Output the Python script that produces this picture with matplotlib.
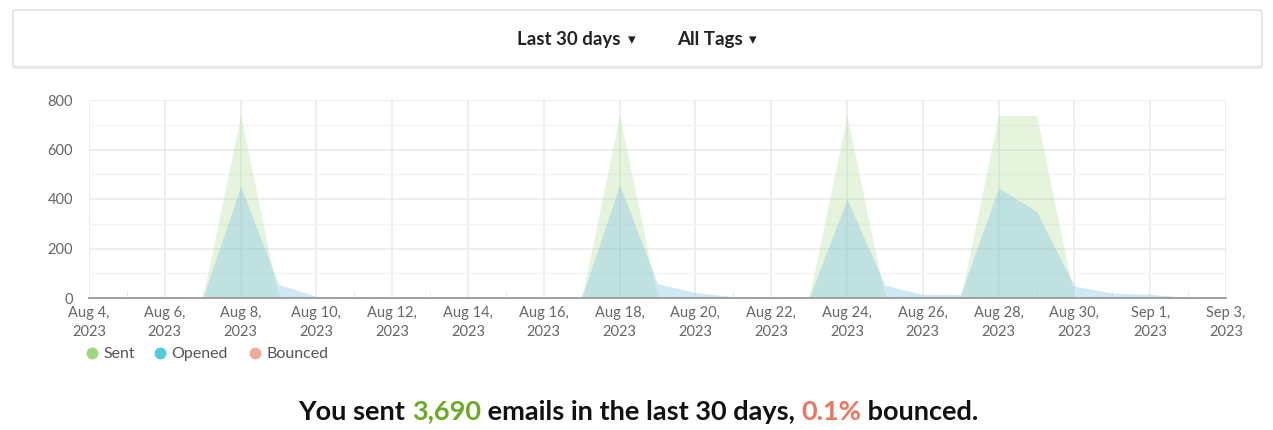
#Importing Required Libraries
import pandas as pd
import matplotlib
matplotlib.use("Agg")
import matplotlib.pyplot as plt
import matplotlib.dates as mdates
from matplotlib.lines import Line2D
from matplotlib.patches import FancyBboxPatch

plt.rcParams['font.family'] = ['Lato', 'DejaVu Sans']

#Daily values, Aug 4 2023 .. Sep 3 2023
dates = pd.date_range("2023-08-04", "2023-09-03", freq="D")
sent = [0, 0, 0, 0, 738, 0, 0, 0, 0, 0, 0, 0, 0, 0, 738, 0,
        0, 0, 0, 0, 738, 0, 0, 0, 738, 738, 0, 0, 0, 0, 0]
opened = [0, 0, 0, 0, 450, 55, 6, 3, 0, 0, 0, 0, 0, 0, 458, 58,
          22, 6, 2, 0, 400, 52, 14, 14, 445, 350, 48, 20, 15, 2, 0]
bounced = [0, 0, 0, 0, 1, 0, 0, 0, 0, 0, 0, 0, 0, 0, 1, 0,
           0, 0, 0, 0, 1, 0, 0, 0, 1, 0, 0, 0, 0, 0, 0]

series_names = ["Sent", "Opened", "Bounced"]
legend_colors = ["#9ed77f", "#4fcbd9", "#f2aa9c"]
period_label = "Last 30 days"
tag_label = "All Tags"
total_sent = "3,690"
bounce_rate = "0.1%"

fig = plt.figure(figsize=(12.73, 4.30), dpi=100)
ax = fig.add_axes([89/1273, 1 - 298/430, (1226 - 89)/1273, (298 - 100)/430])

#Areas
ax.fill_between(dates, sent, color="#9ed77f", alpha=0.25, lw=0)
ax.fill_between(dates, opened, color="#7fc2e4", alpha=0.375, lw=0)
ax.fill_between(dates, bounced, color="#f2aa9c", alpha=0.4, lw=0)

#Axes styling
ax.set_xlim(dates[0], dates[-1])
ax.set_ylim(0, 800)
ax.set_yticks([0, 200, 400, 600, 800])
ax.set_yticks([100, 300, 500, 700], minor=True)
ax.xaxis.set_minor_locator(mdates.DayLocator())
tick_dates = dates[::2]
ax.set_xticks(tick_dates)
ax.set_xticklabels([f"{d.strftime('%b')} {d.day},\n{d.year}" for d in tick_dates])

ax.grid(which="major", color="#ebebeb", lw=1.2)
ax.grid(which="minor", axis="y", color="#f4f4f4", lw=1.0)
ax.set_axisbelow(True)
for side in ["left", "right", "top"]:
    ax.spines[side].set_visible(False)
ax.spines["bottom"].set_color("#9a9a9a")
ax.spines["bottom"].set_linewidth(1.3)
ax.spines["bottom"].set_zorder(5)

ax.tick_params(axis="x", which="major", length=0, pad=6, labelsize=10.5, labelcolor="#666666")
ax.tick_params(axis="x", which="minor", direction="in", length=5, color="#e6e6e6")
ax.tick_params(axis="y", which="both", length=0, pad=11.5, labelsize=10.5, labelcolor="#666666")
for lab in ax.get_xticklabels():
    lab.set_linespacing(1.4)

#Legend
legend_x = [92, 160, 255]
for name, col, x in zip(series_names, legend_colors, legend_x):
    fig.add_artist(Line2D([x/1273], [1 - 353/430], marker="o", ms=7.5, color=col,
                          lw=0, transform=fig.transFigure))
    fig.text((x + 11)/1273, 1 - 354/430, name, fontsize=11.5, color="#555555",
             va="center", ha="left")

#Header box with dropdowns
box = FancyBboxPatch((13/1273, 1 - 67/430), (1262 - 13)/1273, 57/430,
                     boxstyle="round,pad=0,rounding_size=0.004",
                     transform=fig.transFigure, facecolor="white",
                     edgecolor="#dcdcdc", lw=1.0)
fig.add_artist(box)
fig.add_artist(Line2D([14/1273, 1261/1273], [1 - 68/430] * 2, color="#ececec",
                      lw=1.5, transform=fig.transFigure))
fig.text(517/1273, 1 - 39.5/430, period_label, fontsize=13.5,
         fontweight="bold", color="#222222", va="center", ha="left")
fig.text(632/1273, 1 - 40/430, "\u25be", fontsize=11, family="DejaVu Sans",
         color="#222222", va="center", ha="center")
fig.text(677/1273, 1 - 39.5/430, tag_label, fontsize=13.5,
         fontweight="bold", color="#222222", va="center", ha="left")
fig.text(753/1273, 1 - 40/430, "\u25be", fontsize=11, family="DejaVu Sans",
         color="#222222", va="center", ha="center")

#Summary sentence
parts = [("You sent ", "#111111"), (total_sent, "#6aaa24"),
         (" emails in the last 30 days, ", "#111111"), (bounce_rate, "#eb7660"),
         (" bounced.", "#111111")]
renderer = fig.canvas.get_renderer()
texts = []
for s, c in parts:
    t = fig.text(0, 1 - 411.5/430, s, fontsize=19.5, fontweight="bold", color=c,
                 va="center", ha="left")
    texts.append(t)
widths = [t.get_window_extent(renderer).width for t in texts]
total = sum(widths)
x = (638.5 - total/2)
for t, w in zip(texts, widths):
    t.set_x(x/1273)
    x += w

fig.savefig("out.png", dpi=100)
